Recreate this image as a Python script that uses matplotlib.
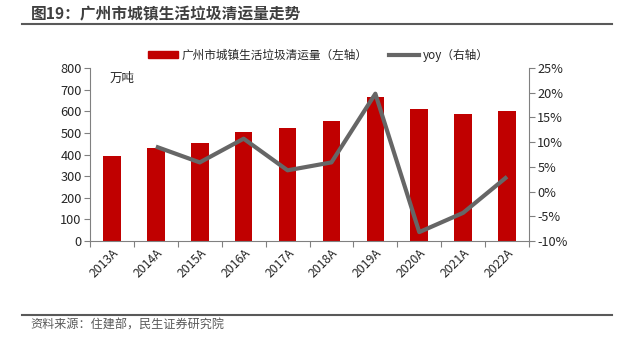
import matplotlib
matplotlib.use("Agg")
import matplotlib.pyplot as plt
from matplotlib.lines import Line2D
import matplotlib.ticker as ticker
import numpy as np

plt.rcParams["font.family"] = ["Noto Sans CJK SC", "DejaVu Sans"]

years = ["2013A", "2014A", "2015A", "2016A", "2017A",
         "2018A", "2019A", "2020A", "2021A", "2022A"]
volume = [393, 429, 453, 503, 524, 555, 666, 612, 586, 603]   # 万吨
yoy = [None, 9.1, 5.9, 10.7, 4.3, 5.9, 19.8, -8.2, -4.3, 3.0]  # %

title = "图19：广州市城镇生活垃圾清运量走势"
source = "资料来源：住建部，民生证券研究院"
bar_label = "广州市城镇生活垃圾清运量（左轴）"
line_label = "yoy（右轴）"

RED = "#C00000"
GREY = "#666666"
AX = "#808080"
TXT = "#262626"

W, H = 629, 337
fig = plt.figure(figsize=(W / 100, H / 100), dpi=100)
ax = fig.add_axes([90 / W, 1 - 241 / H, (529 - 90) / W, (241 - 68) / H])
ax2 = ax.twinx()

x = np.arange(len(years))
ax.bar(x, volume, width=0.4, color=RED, zorder=2)
yx = [i for i, v in enumerate(yoy) if v is not None]
yv = [v for v in yoy if v is not None]
ax2.plot(yx, yv, color=GREY, linewidth=3, solid_capstyle="butt", zorder=3)

ax.set_xlim(-0.5, len(years) - 0.5)
ax.set_ylim(0, 800)
ax.yaxis.set_major_locator(ticker.MultipleLocator(100))
ax2.set_ylim(-10, 25)
ax2.yaxis.set_major_locator(ticker.MultipleLocator(5))
ax2.yaxis.set_major_formatter(ticker.FuncFormatter(lambda v, p: f"{v:.0f}%"))

# ticks between categories, labels at centers
ax.set_xticks(np.arange(-0.5, len(years), 1.0))
ax.set_xticklabels([])
ax.set_xticks(x, minor=True)
ax.set_xticklabels(years, minor=True, rotation=45, ha="right",
                   rotation_mode="anchor", fontsize=8.8, color=TXT)
ax.tick_params(axis="x", which="minor", length=0, pad=4)
ax.tick_params(axis="x", which="major", length=4, color=AX)
ax.tick_params(axis="y", length=4, color=AX, labelsize=9.2, labelcolor=TXT, pad=2)
ax2.tick_params(axis="y", length=4, color=AX, labelsize=9.2, labelcolor=TXT, pad=2)

for a in (ax, ax2):
    a.spines["top"].set_visible(False)
    for s in ("left", "right", "bottom"):
        a.spines[s].set_color(AX)
        a.spines[s].set_linewidth(0.8)
ax.spines["right"].set_visible(False)
ax2.spines["left"].set_visible(False)
ax2.spines["bottom"].set_visible(False)

ax.text(0.045, 0.975, "万吨", transform=ax.transAxes, fontsize=9,
        color=TXT, va="top", ha="left")

handles = [plt.Rectangle((0, 0), 1, 1, color=RED),
           Line2D([0], [0], color=GREY, linewidth=3)]
fig.legend(handles, [bar_label, line_label], loc="center",
           bbox_to_anchor=(318 / W, 1 - 55 / H), ncol=2, frameon=False,
           fontsize=8.4, handlelength=2.6, handleheight=0.6, columnspacing=1.8,
           handletextpad=0.3, labelcolor=TXT)

fig.text(31 / W, 1 - 14 / H, title, fontsize=11.3, fontweight="bold",
         color="#3F3F3F", va="center", ha="left")
fig.add_artist(Line2D([22 / W, 612 / W], [1 - 24 / H, 1 - 24 / H],
                      color="#595959", linewidth=1.5))
fig.add_artist(Line2D([22 / W, 612 / W], [1 - 315 / H, 1 - 315 / H],
                      color="#595959", linewidth=1.5))
fig.text(30 / W, 1 - 325 / H, source, fontsize=8.7, color="#595959",
         va="center", ha="left")

fig.savefig("out.png", dpi=100)
